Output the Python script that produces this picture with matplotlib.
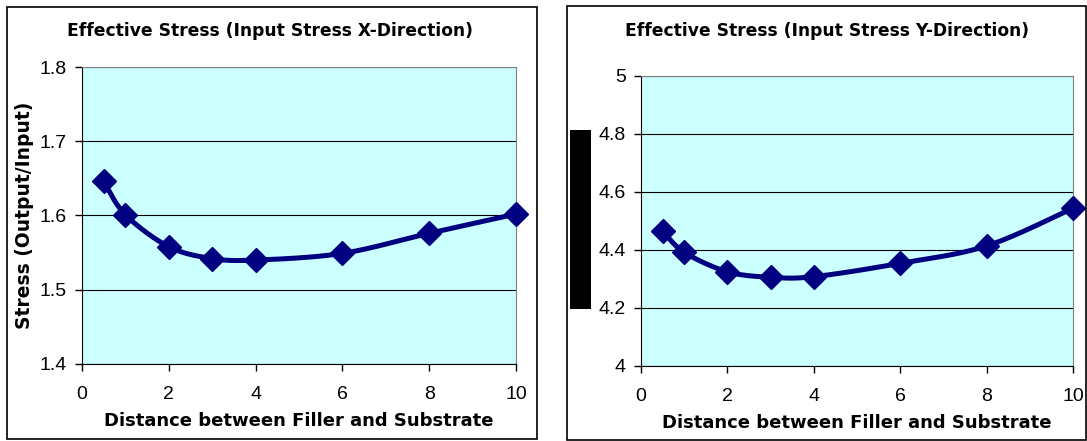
import numpy as np
import matplotlib
matplotlib.use("Agg")
import matplotlib.pyplot as plt
from matplotlib.patches import Rectangle

plt.rcParams['font.family'] = ['Liberation Sans', 'DejaVu Sans']

# distance between filler and substrate
distance = [0.5, 1, 2, 3, 4, 6, 8, 10]
# effective stress ratios (output/input)
stress_x = [1.646, 1.601, 1.558, 1.542, 1.540, 1.549, 1.576, 1.602]
stress_y = [4.466, 4.392, 4.325, 4.306, 4.308, 4.354, 4.414, 4.544]

x_ticks = [0, 2, 4, 6, 8, 10]
yticks_x = [1.4, 1.5, 1.6, 1.7, 1.8]
yticks_y = [4, 4.2, 4.4, 4.6, 4.8, 5]
ytick_labels_y = ["4", "4.2", "4.4", "4.6", "4.8", "5"]

W, H = 1087, 441
NAVY = "#000080"
FILL = "#CCFFFF"
BOLD = dict(family="DejaVu Sans", fontweight="bold")

fig = plt.figure(figsize=(W / 100, H / 100), dpi=100)


def px_axes(x0, y0, x1, y1):
    return fig.add_axes([x0 / W, 1 - y1 / H, (x1 - x0) / W, (y1 - y0) / H])


def smooth(x, y, n=20):
    # Catmull-Rom style curve through the points, like a smoothed Excel line
    x = np.asarray(x, float)
    y = np.asarray(y, float)
    px = np.concatenate([[x[0]], x, [x[-1]]])
    py = np.concatenate([[y[0]], y, [y[-1]]])
    xs, ys = [], []
    for i in range(1, len(px) - 2):
        p0, p1, p2, p3 = [np.array([px[j], py[j]]) for j in range(i - 1, i + 3)]
        c1 = p1 + (p2 - p0) / 6
        c2 = p2 - (p3 - p1) / 6
        t = np.linspace(0, 1, n)[:, None]
        pts = ((1 - t) ** 3) * p1 + 3 * ((1 - t) ** 2) * t * c1 + 3 * (1 - t) * t ** 2 * c2 + t ** 3 * p2
        xs.extend(pts[:, 0])
        ys.extend(pts[:, 1])
    return xs, ys


def panel(box, area, title, title_xy, x, y, yticks, ylabels, ylim, ylabel):
    fig.add_artist(Rectangle((box[0] / W, 1 - box[3] / H), (box[2] - box[0]) / W,
                             (box[3] - box[1]) / H, transform=fig.transFigure,
                             fill=False, edgecolor="black", lw=1.2))
    ax = px_axes(*area)
    ax.set_facecolor(FILL)
    sx, sy = smooth(x, y)
    ax.plot(sx, sy, color=NAVY, lw=3.6, zorder=3, clip_on=False)
    ax.plot(x, y, ls="none", marker="D", ms=12.5, color=NAVY, zorder=4, clip_on=False)
    ax.set_xlim(0, 10)
    ax.set_ylim(*ylim)
    ax.set_xticks(x_ticks)
    ax.set_yticks(yticks)
    ax.set_yticklabels(ylabels)
    ax.yaxis.grid(True, color="black", lw=0.8)
    ax.set_axisbelow(True)
    ax.tick_params(direction="out", length=5, width=1, labelsize=14, pad=6)
    ax.tick_params(axis="x", pad=11)
    for s in ("top", "right"):
        ax.spines[s].set_color("#808080")
    for s in ("left", "bottom"):
        ax.spines[s].set_color("black")
    ax.set_xlabel("Distance between Filler and Substrate", fontsize=13,
                  labelpad=6, **BOLD)
    if ylabel:
        ax.set_ylabel(ylabel, fontsize=13.5, labelpad=4, **BOLD)
    fig.text(title_xy[0] / W, 1 - title_xy[1] / H, title, ha="center", va="center",
             fontsize=12.3, **BOLD)
    return ax


panel((7, 7, 537, 439), (82, 67, 516, 364),
      "Effective Stress (Input Stress X-Direction)", (270, 31),
      distance, stress_x, yticks_x, [f"{v:.1f}" for v in yticks_x], (1.4, 1.8),
      "Stress (Output/Input)")

panel((567, 6, 1086, 440), (641, 76, 1073, 366),
      "Effective Stress (Input Stress Y-Direction)", (827, 31),
      distance, stress_y, yticks_y, ytick_labels_y, (4, 5), None)

# redaction block over the right panel's y label
fig.add_artist(Rectangle((570 / W, 1 - 309 / H), 21 / W, 179 / H,
                         transform=fig.transFigure, color="black", lw=0))

fig.savefig("out.png", dpi=100)
